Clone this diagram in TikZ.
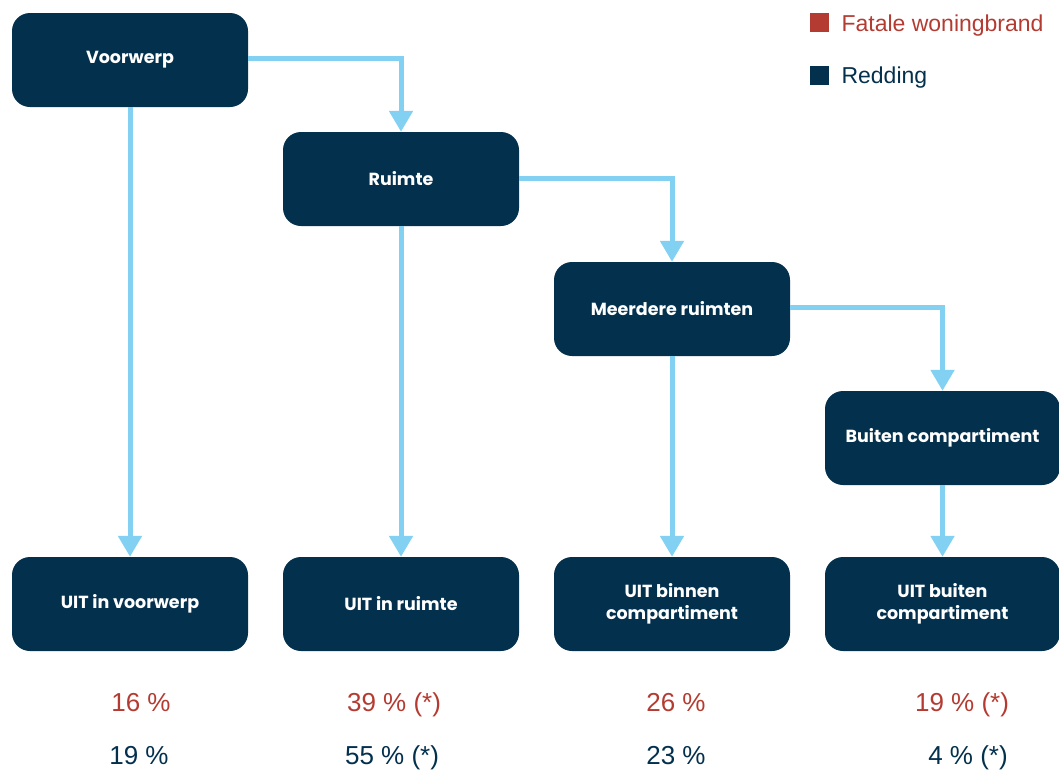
\documentclass[tikz,border=0pt]{standalone}
\usepackage{fontspec}
\setmainfont{Liberation Sans}
\newfontfamily\boxfont{Poppins}
\usetikzlibrary{arrows.meta}
\definecolor{navy}{HTML}{03304D}
\definecolor{fred}{HTML}{B43B31}
\definecolor{lblue}{HTML}{82D0F2}
\tikzset{
  box/.style={fill=navy, rounded corners=18pt, minimum width=236pt, minimum height=94pt,
    inner sep=0pt, text=white, align=center, font=\boxfont\bfseries\fontsize{17.5}{22}\selectfont},
  conn/.style={draw=lblue, line width=5pt, -{Triangle[width=23pt,length=21pt]}},
  pct/.style={font=\fontsize{26}{30}\selectfont, anchor=base},
  leg/.style={font=\fontsize{23}{27}\selectfont, anchor=base west}
}
\begin{document}
\begin{tikzpicture}[x=1pt,y=-1pt]
\useasboundingbox (0,0) rectangle (1059,769);
\node[box] (v) at (130,60) {Voorwerp};
\node[box] (r) at (401,179) {Ruimte};
\node[box] (m) at (672,309) {Meerdere ruimten};
\node[box, minimum width=235pt] (b) at (942.5,438) {Buiten compartiment};
\node[box] (u1) at (130,604) {UIT in voorwerp};
\node[box] (u2) at (401,604) {UIT in ruimte};
\node[box] (u3) at (672,604) {UIT binnen\\compartiment};
\node[box, minimum width=235pt] (u4) at (942.5,604) {UIT buiten\\compartiment};

\draw[conn] (v.east |- 0,58) -| (r.north);
\draw[conn] (r.east |- 0,178) -| (m.north);
\draw[conn] (m.east |- 0,307) -| (b.north);
\draw[conn] (v.south) -- (u1.north);
\draw[conn] (r.south) -- (u2.north);
\draw[conn] (m.south) -- (u3.north);
\draw[conn] (b.south) -- (u4.north);

\node[pct, text=fred] (p1) at (141,711) {16 \%};
\node[pct, text=fred] (p2) at (394,711) {39 \% (*)};
\node[pct, text=fred] (p3) at (676,711) {26 \%};
\node[pct, text=fred] (p4) at (962,711) {19 \% (*)};
\node[pct, text=navy] (q1) at (139,764) {19 \%};
\node[pct, text=navy] (q2) at (392,764) {55 \% (*)};
\node[pct, text=navy] (q3) at (676,764) {23 \%};
\node[pct, text=navy] (q4) at (968,764) {4 \% (*)};

\fill[fred] (810,13) rectangle (829,32);
\node[leg, text=fred] (l1) at (838,31) {Fatale woningbrand};
\fill[navy] (810,66) rectangle (829,85);
\node[leg, text=navy] (l2) at (838,83) {Redding};
\end{tikzpicture}
\end{document}
